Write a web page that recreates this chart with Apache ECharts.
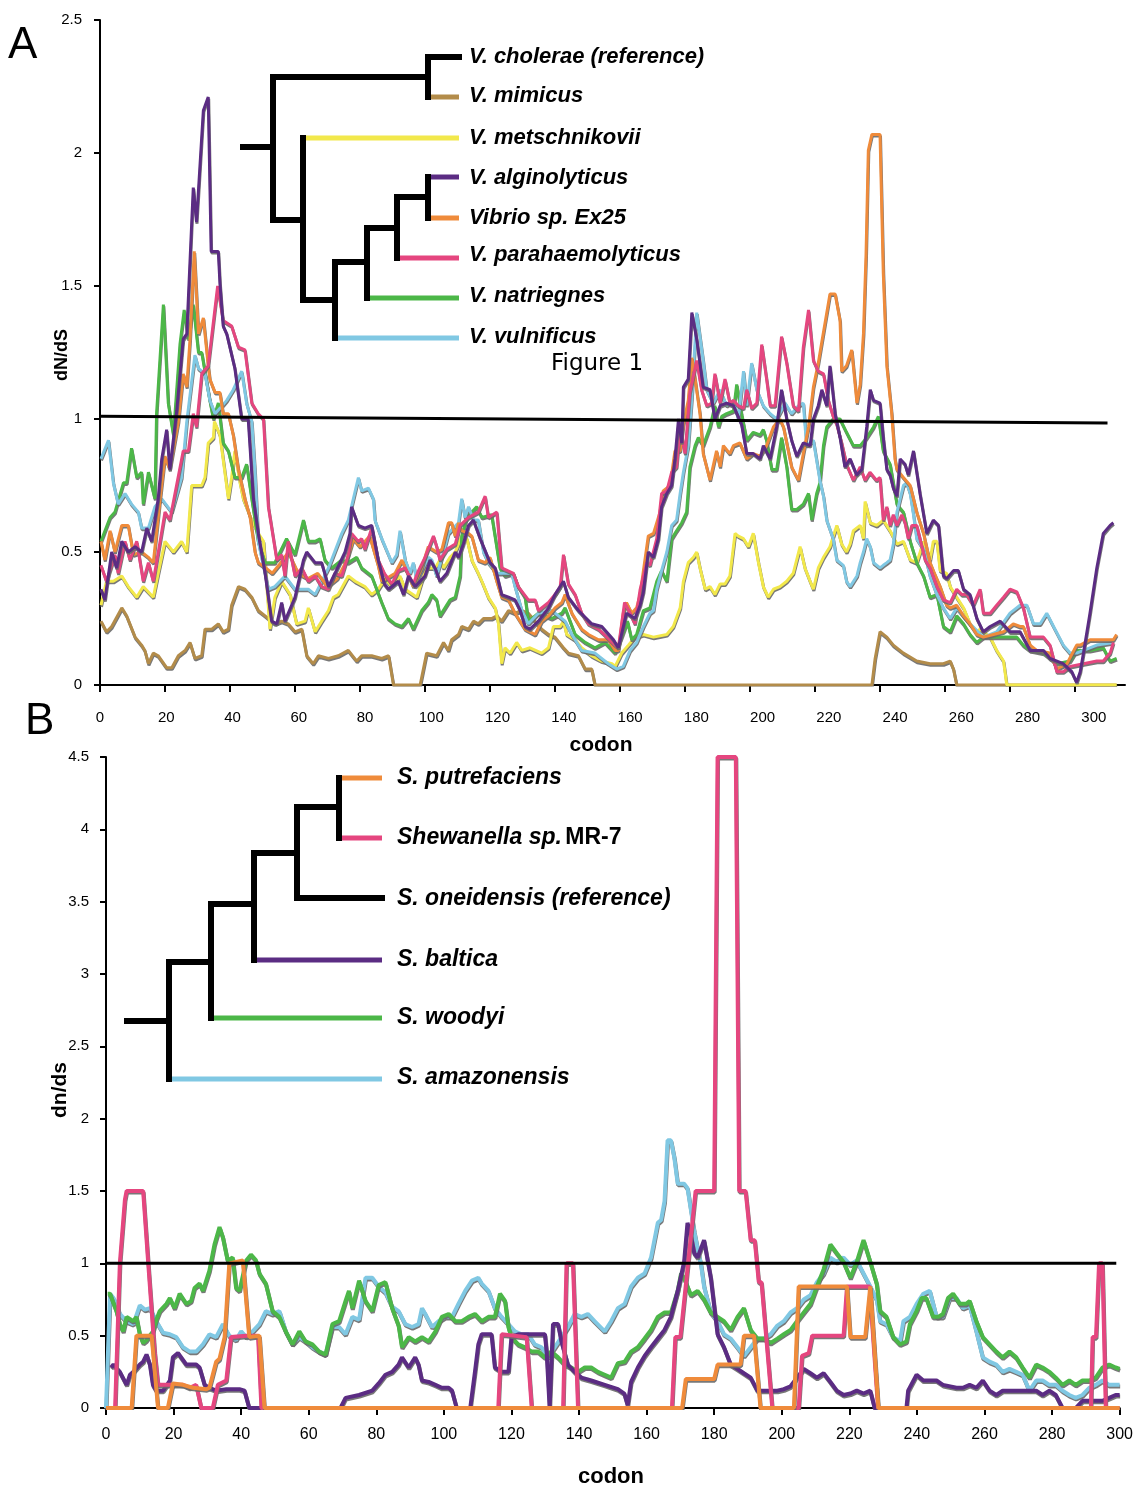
<!DOCTYPE html>
<html><head><meta charset="utf-8">
<script src="https://cdn.jsdelivr.net/npm/echarts@6/dist/echarts.min.js"></script>
<style>html,body{margin:0;padding:0;background:#fff}#c{width:1136px;height:1487px}</style>
</head><body><div id="c"></div>
<script>
// ---------- Panel A (Vibrio) : [codon, dN/dS] ----------
const vAlginolyticus = [[0.3,0.36],[1.5,0.32],[3.6,0.5],[5.1,0.44],[6.7,0.54],[8.7,0.5],[10.8,0.52],[12.8,0.5],[14.4,0.59],[15.9,0.54],[17.9,0.7],[19,0.85],[20.5,0.96],[21.5,0.81],[23.6,1.03],[25.6,1.3],[26.7,1.32],[28.7,1.87],[29.7,1.74],[31.8,2.16],[33.3,2.21],[34.2,1.63],[36.4,1.63],[36.9,1.51],[37.9,1.35],[39,1.32],[41.5,1.19],[43.6,1.0],[45.6,1.0],[47.2,0.7],[48.7,0.57],[50.8,0.42],[52.8,0.24],[54.4,0.23],[55.9,0.31],[56.9,0.24],[60,0.33],[62.6,0.47],[63.6,0.5],[66.2,0.46],[68.2,0.46],[70.3,0.37],[72.3,0.42],[75.4,0.5],[76.9,0.57],[77.4,0.67],[79.5,0.6],[81.5,0.59],[83.6,0.6],[85.6,0.47],[87.5,0.38],[88.8,0.36],[91.8,0.39],[93.4,0.34],[94.9,0.41],[97,0.37],[100,0.41],[101.6,0.47],[103.1,0.44],[104.6,0.39],[106.7,0.42],[109.3,0.5],[110.3,0.48],[111.8,0.53],[113.4,0.6],[114.9,0.62],[117,0.55],[118,0.52],[120,0.46],[121.6,0.44],[123.6,0.34],[125.7,0.33],[127.7,0.32],[129.3,0.28],[130.8,0.22],[132.3,0.21],[134.9,0.24],[138,0.29],[140,0.34],[142.6,0.39],[144.1,0.33],[147.2,0.28],[151.3,0.23],[154.4,0.22],[158,0.17],[159.5,0.14],[162,0.27],[164.6,0.25],[166.2,0.3],[167.2,0.35],[168.7,0.5],[170.3,0.48],[171.8,0.55],[172.8,0.67],[174.4,0.72],[175.9,0.75],[176.9,0.85],[178,1.0],[179,0.91],[179.5,1.12],[181,1.15],[182.1,1.4],[183.6,1.3],[185.6,1.12],[187.7,1.11],[189.2,1.0],[190.8,1.05],[192.8,1.06],[194.9,1.05],[197.4,0.98],[199,0.87],[201,0.87],[203.1,0.85],[204.1,0.9],[206.2,0.85],[208.2,0.97],[209.7,1.11],[211.3,1.0],[212.8,0.92],[214.4,0.86],[216.4,0.91],[218.5,0.9],[219.5,1.0],[221,1.05],[222.1,1.11],[223.6,1.05],[224.6,1.2],[226.2,1.02],[227.7,0.93],[229.2,0.82],[230.8,0.85],[232.8,0.79],[234.4,0.81],[235.9,0.97],[237,1.11],[238,1.07],[240,1.06],[241,0.93],[242.1,0.81],[243.1,0.79],[244.1,0.74],[245.2,0.71],[246.2,0.85],[247.7,0.83],[248.7,0.79],[250.3,0.88],[251.3,0.8],[252.3,0.72],[254.4,0.57],[256.4,0.62],[258,0.6],[259.5,0.41],[260.5,0.4],[262.6,0.43],[264.1,0.43],[265.7,0.36],[267.7,0.34],[269.8,0.25],[271.8,0.2],[273.9,0.22],[277,0.24],[280,0.2],[283.1,0.2],[286.2,0.13],[290.3,0.13],[292.3,0.1],[296.4,0.08],[299,0.05],[300.5,0.01],[301.6,0.05],[302.6,0.12],[304.6,0.27],[306.7,0.44],[308.7,0.57],[310.8,0.6],[311.8,0.61]];
const vEx25 = [[0.3,0.54],[1.5,0.47],[3.1,0.58],[4.6,0.5],[6.7,0.6],[8.7,0.6],[10.3,0.49],[12.8,0.5],[14.9,0.48],[16.4,0.46],[18.5,0.7],[20,0.86],[21.5,0.81],[24.1,0.99],[25.6,1.17],[26.7,1.12],[27.7,1.3],[29,1.63],[30.3,1.32],[31.8,1.38],[33.3,1.2],[33.8,1.15],[35.4,1.1],[36.9,1.1],[37.9,1.02],[39.5,1.02],[41,0.94],[42.6,0.81],[44.6,0.7],[46.2,0.63],[47.7,0.5],[48.7,0.46],[51,0.44],[53,0.42],[55,0.45],[58,0.5],[61,0.42],[64,0.4],[67,0.42],[70,0.37],[73,0.4],[76,0.47],[78,0.55],[80,0.52],[83,0.56],[85.6,0.45],[86.7,0.39],[90.8,0.42],[92.9,0.47],[96.4,0.37],[99,0.44],[101,0.52],[103.6,0.5],[105.2,0.51],[107.2,0.61],[108.2,0.61],[109.3,0.56],[110.3,0.61],[111.3,0.58],[113.4,0.57],[114.4,0.56],[116.4,0.47],[118.5,0.46],[120,0.48],[122.1,0.39],[123.6,0.33],[125.7,0.32],[127.7,0.27],[130.8,0.21],[133.9,0.19],[135.9,0.24],[138,0.26],[140,0.29],[142.1,0.31],[143.1,0.34],[145.2,0.27],[148.2,0.21],[150.3,0.19],[153.4,0.17],[156.4,0.17],[158.5,0.13],[159.5,0.13],[161,0.27],[162,0.31],[163.6,0.27],[165.1,0.29],[166.2,0.34],[167.2,0.43],[168.7,0.56],[170.3,0.57],[172.3,0.65],[173.3,0.73],[175.4,0.75],[176.9,0.88],[178.5,0.88],[179.5,0.98],[181,1.07],[182.1,1.23],[183.1,1.15],[184.6,1.02],[185.6,0.87],[187.7,0.77],[189.7,0.88],[190.8,0.82],[191.8,0.9],[193.8,0.87],[194.9,0.9],[196.9,0.91],[199,0.85],[201,0.87],[203.1,0.86],[205.1,0.9],[207.2,0.97],[209.2,1.0],[210.3,0.97],[212.8,0.82],[214.9,0.77],[216.4,0.87],[218,0.97],[219.5,1.12],[221,1.21],[222.1,1.29],[224.6,1.47],[226.2,1.47],[227.7,1.37],[228.2,1.18],[229.7,1.2],[231.3,1.26],[232.9,1.06],[233.9,1.13],[234.9,1.32],[235.7,1.62],[236.4,2.01],[237.5,2.07],[240,2.07],[241,1.55],[242.1,1.2],[243.6,1.02],[244.6,0.85],[245.2,0.81],[247.2,0.78],[249.3,0.75],[251.3,0.65],[253.4,0.57],[255.4,0.46],[256.4,0.43],[258.5,0.37],[260.5,0.3],[261.6,0.29],[263.6,0.3],[265.7,0.26],[267.7,0.23],[269.8,0.19],[271.8,0.18],[274.9,0.19],[278,0.2],[281,0.23],[283.1,0.22],[284.1,0.22],[286.2,0.15],[288.2,0.13],[292.3,0.12],[294.4,0.06],[297.5,0.08],[300.5,0.15],[301.6,0.15],[304.6,0.17],[311.8,0.17],[312.8,0.19]];
const vParahaemolyticus = [[0.3,0.45],[2,0.39],[4.6,0.49],[5.6,0.42],[7.7,0.54],[9.2,0.47],[11.3,0.54],[13.3,0.39],[14.9,0.46],[16.4,0.39],[18.5,0.54],[20,0.65],[21.5,0.62],[25.6,0.88],[27.2,0.88],[28.7,1.02],[29.7,0.97],[31.3,1.17],[33.3,1.2],[36.2,1.5],[37.9,1.37],[40.5,1.35],[42.6,1.27],[44.6,1.26],[46.7,1.06],[48.7,1.02],[50.3,1.0],[51.8,0.67],[54.4,0.47],[55.9,0.49],[56.9,0.41],[57.9,0.54],[60,0.41],[62.1,0.44],[64.1,0.39],[66.2,0.41],[68.2,0.37],[70.3,0.36],[72.3,0.42],[74.4,0.41],[76.4,0.49],[77.4,0.57],[79.5,0.54],[80.5,0.55],[81.5,0.51],[83.6,0.59],[85.6,0.47],[87.5,0.42],[89.8,0.38],[91.8,0.43],[93.9,0.44],[96.4,0.38],[98,0.43],[100,0.48],[102.6,0.56],[103.6,0.52],[104.6,0.47],[106.7,0.51],[109.3,0.53],[110.8,0.6],[113.4,0.63],[116.4,0.65],[118.5,0.71],[119.5,0.63],[122.1,0.65],[123.6,0.44],[127.2,0.42],[128.7,0.37],[131.8,0.32],[133.9,0.32],[134.9,0.28],[138,0.31],[140,0.34],[141.6,0.37],[142.6,0.49],[144.1,0.38],[146.2,0.34],[148.2,0.27],[150.3,0.23],[153.4,0.21],[156,0.18],[158.5,0.15],[159.5,0.14],[161.4,0.31],[163.1,0.27],[164.6,0.23],[166.2,0.36],[168.2,0.46],[169.2,0.45],[171.3,0.55],[172.8,0.72],[174.4,0.73],[175.9,0.8],[177.4,0.82],[178.5,0.97],[180,0.87],[181.5,1.1],[183.6,1.22],[185.1,1.11],[186.7,1.05],[188.2,1.06],[189.2,1.17],[190.8,1.06],[192.3,1.15],[193.8,1.06],[194.9,1.07],[196.4,1.05],[198,1.04],[199,1.11],[200.5,1.04],[202.1,1.06],[203.6,1.28],[205.1,1.15],[206.2,1.05],[207.7,1.05],[209.7,1.31],[211.3,1.21],[213.3,1.05],[214.9,1.03],[216.4,1.27],[218,1.41],[219.5,1.22],[221,1.18],[222.6,1.17],[224.1,1.07],[225.6,1.01],[226.7,0.98],[228.2,0.91],[229.7,0.83],[231.8,0.77],[233.9,0.82],[235.4,0.77],[236.9,0.8],[238.9,0.77],[240,0.78],[241,0.62],[242.1,0.67],[243.1,0.6],[244.1,0.64],[245.2,0.6],[246.7,0.64],[247.7,0.61],[248.7,0.55],[249.8,0.6],[251.3,0.6],[252.3,0.55],[253.9,0.47],[255.4,0.44],[257.5,0.37],[259.5,0.32],[261.6,0.31],[263.6,0.36],[265.2,0.34],[266.7,0.34],[268.7,0.3],[270.8,0.36],[271.8,0.27],[273.9,0.27],[275.9,0.3],[278,0.33],[280,0.36],[282.1,0.35],[284.1,0.29],[286.2,0.18],[290.3,0.18],[292.3,0.15],[294.4,0.05],[296.4,0.05],[298.5,0.07],[302.6,0.08],[306.7,0.09],[308.7,0.09],[310.8,0.12],[311.8,0.16]];
const vNatriegnes = [[0.3,0.54],[3.1,0.63],[4.6,0.65],[7.2,0.76],[8.2,0.76],[9.7,0.89],[11.3,0.78],[12.8,0.8],[13.3,0.68],[14.9,0.8],[16.9,0.7],[17.4,1.02],[19.5,1.43],[21,1.06],[22.6,0.94],[24.6,1.28],[25.9,1.41],[27.2,1.3],[28.7,1.43],[30.3,1.25],[31.3,1.25],[33.8,1.07],[34.9,1.0],[36.4,1.06],[37.9,0.91],[39.5,0.88],[41.5,0.78],[43.6,0.78],[45.1,0.83],[46.7,0.7],[48.7,0.54],[50.8,0.46],[53.8,0.46],[57.4,0.55],[60,0.49],[62.6,0.62],[64.1,0.54],[66.2,0.54],[67.7,0.55],[69.2,0.47],[71.3,0.44],[74.4,0.47],[76.4,0.46],[79,0.48],[80.5,0.44],[83.6,0.41],[86.7,0.31],[88.7,0.25],[90.8,0.23],[92.9,0.22],[94.9,0.25],[96.4,0.21],[99,0.28],[101,0.31],[102.1,0.34],[103.6,0.32],[104.6,0.26],[107.7,0.32],[109.3,0.33],[110.8,0.41],[111.3,0.56],[112.9,0.63],[114.4,0.65],[115.9,0.67],[117.5,0.63],[120.5,0.64],[123.1,0.44],[124.6,0.41],[127.2,0.42],[128.7,0.37],[130.8,0.33],[131.8,0.24],[134.9,0.27],[139,0.25],[142.1,0.27],[143.1,0.29],[146.2,0.19],[149.3,0.16],[152.3,0.14],[155.4,0.16],[158.5,0.12],[160.5,0.18],[162.3,0.24],[163.6,0.17],[165.1,0.19],[167.2,0.28],[169.2,0.29],[171.3,0.39],[172.8,0.43],[174.4,0.39],[175.9,0.55],[177.4,0.58],[179,0.61],[180.5,0.65],[181.5,0.82],[183.1,0.9],[184.1,0.93],[185.6,0.9],[187.7,0.97],[189.2,1.05],[190.3,0.97],[191.3,1.01],[192.8,1.02],[194.9,1.03],[195.9,1.13],[197.4,1.02],[199,0.92],[201,0.95],[203.1,0.94],[204.1,0.96],[205.1,0.92],[206.7,0.81],[208.2,0.81],[209.7,0.93],[211.3,0.82],[212.8,0.66],[214.4,0.66],[216.4,0.68],[218,0.72],[219,0.62],[220.5,0.72],[221.5,0.76],[222.6,0.9],[223.6,0.97],[225.6,1.0],[227.7,1.0],[229.7,0.95],[231.8,0.9],[233.9,0.9],[235.9,0.93],[238,0.97],[239.5,1.01],[241,0.88],[243.1,0.83],[245.2,0.68],[247.2,0.65],[249.3,0.54],[251.3,0.46],[253.4,0.41],[255.4,0.33],[257.5,0.34],[259.5,0.22],[261.6,0.2],[263.6,0.26],[265.7,0.23],[267.7,0.19],[269.8,0.16],[271.8,0.18],[275.9,0.18],[282.1,0.18],[284.1,0.15],[286.2,0.13],[290.3,0.12],[294.4,0.08],[298.5,0.09],[300.5,0.13],[304.6,0.13],[308.7,0.14],[310.8,0.09],[312.8,0.1]];
const vVulnificus = [[0.3,0.85],[2.6,0.92],[4.1,0.76],[5.6,0.68],[7.7,0.72],[9.7,0.68],[11.8,0.65],[12.8,0.59],[14.9,0.59],[16.9,0.67],[19,0.7],[22.1,0.65],[25.1,0.78],[26.7,0.99],[29.2,1.24],[30.3,1.19],[32.3,1.17],[33.8,1.07],[35.4,1.02],[36.9,1.04],[39,1.07],[41,1.11],[43.6,1.18],[45.1,1.06],[46.7,0.99],[47.7,0.8],[48.7,0.54],[51.8,0.36],[53.8,0.37],[56.9,0.41],[60,0.36],[64.1,0.36],[66.2,0.34],[70.3,0.44],[74.4,0.57],[76.4,0.62],[79.5,0.78],[80.5,0.73],[82.6,0.74],[84.1,0.7],[84.6,0.62],[86.7,0.55],[89.8,0.46],[91.3,0.49],[92.3,0.58],[93.9,0.47],[95.4,0.42],[96.4,0.46],[97.5,0.39],[99,0.43],[101,0.48],[102.1,0.47],[103.6,0.41],[105.7,0.5],[107.2,0.57],[110.3,0.61],[111.3,0.7],[112.3,0.63],[113.4,0.67],[114.9,0.62],[116.4,0.62],[118,0.5],[119.5,0.46],[122.1,0.42],[126.7,0.42],[127.7,0.37],[129.8,0.28],[131.8,0.23],[134.9,0.27],[139,0.28],[143.1,0.24],[145.2,0.19],[148.2,0.13],[152.3,0.12],[156.4,0.08],[159,0.06],[161,0.07],[163.1,0.13],[165.1,0.16],[167.2,0.22],[169.2,0.27],[170.3,0.28],[171.3,0.36],[172.8,0.43],[174.4,0.5],[175.9,0.6],[177.4,0.62],[178.5,0.72],[179.5,0.8],[181,0.9],[182.1,1.08],[183.6,1.4],[184.1,1.4],[185.6,1.22],[186.7,1.11],[188.7,1.06],[190.8,1.11],[192.8,1.05],[194.9,1.07],[196.4,1.0],[198,1.18],[199,1.05],[200.5,1.21],[202.1,1.11],[204.1,1.05],[206.2,1.02],[208.2,1.0],[210.8,1.06],[212.8,1.02],[214.9,1.05],[216.4,1.06],[217.4,0.9],[219.5,0.92],[221.5,0.77],[222.6,0.71],[223.6,0.62],[225.6,0.55],[226.7,0.47],[228.7,0.45],[229.7,0.39],[230.8,0.37],[232.9,0.41],[233.9,0.46],[234.9,0.5],[235.9,0.55],[237,0.52],[238,0.46],[240,0.44],[241,0.45],[242.1,0.46],[243.1,0.47],[244.1,0.53],[245.2,0.65],[247.2,0.75],[248.2,0.76],[249.3,0.72],[250.3,0.64],[251.3,0.55],[253.4,0.51],[255.4,0.41],[257.5,0.34],[259.5,0.29],[261.6,0.25],[263.6,0.29],[267.7,0.23],[271.8,0.18],[275.9,0.2],[280,0.27],[283.1,0.3],[285.2,0.3],[287.2,0.23],[289.3,0.23],[291.3,0.27],[293.4,0.22],[296.4,0.15],[298.5,0.12],[300.5,0.12],[302.6,0.13],[306.7,0.15],[311.8,0.16]];
const vMetschnikovii = [[0.3,0.3],[2,0.39],[4.1,0.39],[6.7,0.41],[8.7,0.37],[11.3,0.33],[13.3,0.37],[16.4,0.33],[17.9,0.42],[20,0.54],[22.6,0.5],[25.1,0.54],[26.7,0.5],[28.2,0.75],[31.3,0.75],[32.3,0.78],[33.3,0.91],[34.9,0.93],[35.2,0.99],[36.9,0.94],[39.5,0.7],[40.5,0.78],[41.5,0.88],[43.1,0.76],[44.1,0.7],[46.7,0.62],[48.7,0.57],[50.3,0.54],[52.3,0.21],[53.8,0.33],[55.9,0.39],[58.5,0.34],[60.5,0.23],[63.1,0.24],[64.1,0.29],[66.2,0.2],[68.2,0.24],[70.3,0.28],[71.8,0.33],[73.3,0.34],[76.4,0.41],[78.5,0.39],[81.5,0.37],[83.6,0.34],[85.6,0.36],[87.7,0.4],[89.8,0.37],[92.3,0.41],[93.9,0.36],[97.5,0.33],[99,0.39],[100.5,0.44],[103.1,0.44],[104.6,0.47],[105.7,0.44],[107.7,0.48],[109.3,0.5],[111.3,0.56],[112.9,0.55],[114.4,0.47],[116.4,0.42],[117.5,0.39],[119.5,0.33],[121.6,0.29],[122.6,0.23],[123.6,0.08],[124.6,0.14],[126.2,0.12],[128.2,0.16],[129.8,0.13],[132.3,0.14],[135.9,0.12],[138,0.14],[139.5,0.22],[141.6,0.22],[142.6,0.24],[143.6,0.19],[146.2,0.17],[148.2,0.14],[151.3,0.11],[154.4,0.09],[157.5,0.08],[158.5,0.07],[160.5,0.12],[162.6,0.15],[164.6,0.18],[167.2,0.19],[170.3,0.18],[174.4,0.19],[176.4,0.22],[178.5,0.29],[179.5,0.39],[181,0.46],[182.6,0.48],[183.6,0.5],[184.6,0.44],[186.2,0.36],[187.7,0.37],[189.2,0.34],[190.8,0.38],[192.3,0.38],[193.8,0.41],[195.4,0.57],[196.4,0.56],[198,0.55],[199.5,0.52],[201,0.57],[202.6,0.46],[204.1,0.37],[205.6,0.33],[207.2,0.36],[209.2,0.37],[211.3,0.39],[213.3,0.42],[215.4,0.52],[216.9,0.44],[218.5,0.39],[219.5,0.36],[221,0.44],[222.6,0.48],[224.6,0.52],[226.7,0.6],[228.2,0.53],[229.7,0.5],[230.8,0.53],[231.8,0.58],[233.9,0.6],[234.9,0.55],[235.4,0.69],[237,0.61],[239,0.6],[241,0.62],[243.1,0.58],[245.2,0.53],[247.2,0.54],[249.3,0.47],[251.3,0.46],[253.4,0.54],[255.4,0.47],[256.4,0.54],[257.5,0.54],[258.5,0.43],[260.5,0.42],[261.6,0.37],[263.6,0.33],[265.7,0.29],[267.7,0.23],[269.8,0.2],[270.8,0.21],[273.9,0.18],[275.9,0.13],[278,0.09],[279,0],[312.8,0]];
const vMimicus = [[0.3,0.24],[2,0.2],[3.6,0.22],[6.7,0.29],[8.2,0.26],[10.8,0.18],[12.8,0.15],[13.8,0.13],[14.9,0.08],[16.4,0.12],[17.9,0.11],[20.5,0.065],[22.1,0.065],[24.1,0.11],[26.2,0.13],[27.7,0.16],[29.2,0.1],[31.3,0.11],[32.3,0.21],[34.4,0.21],[36.4,0.23],[37.9,0.2],[39.5,0.21],[40.5,0.3],[42.6,0.37],[44.6,0.36],[46.7,0.33],[48.7,0.28],[50.8,0.26],[53.8,0.23],[55.9,0.24],[57.9,0.23],[60,0.2],[62.1,0.21],[63.6,0.11],[65.6,0.08],[67.2,0.11],[70.3,0.1],[73.3,0.11],[76.4,0.13],[79,0.09],[80.5,0.11],[83.6,0.11],[86.7,0.1],[88.8,0.11],[90.3,0],[98.5,0],[100.5,0.12],[103.6,0.11],[105.7,0.16],[107.2,0.13],[108.2,0.17],[110.3,0.19],[111.3,0.22],[113.4,0.21],[114.9,0.24],[116.4,0.23],[118,0.25],[120.5,0.25],[122.1,0.26],[123.6,0.24],[125.7,0.28],[127.7,0.27],[129.8,0.28],[131.8,0.27],[135.9,0.21],[138,0.19],[140,0.18],[142.6,0.14],[144.1,0.12],[147.2,0.11],[149.3,0.06],[151.3,0.06],[152.3,0],[237.5,0],[238.5,0.1],[240,0.2],[242.1,0.18],[244.1,0.15],[247.2,0.12],[251.3,0.09],[255.4,0.08],[259.5,0.08],[261.6,0.09],[262.6,0.06],[263.6,0],[312.8,0]];
const refLineA = [[0,1.01],[310,0.985]];

// ---------- Panel B (Shewanella) : [codon, dn/ds] ----------
const sAmazonensis = [[0,0],[1.2,0.79],[2.2,0.76],[3.1,0.72],[4.1,0.65],[6.1,0.6],[8.1,0.58],[10,0.71],[11.5,0.68],[13,0.69],[14.9,0.6],[16.9,0.52],[18.9,0.51],[20.8,0.49],[22.8,0.42],[24.8,0.39],[26.7,0.39],[28.7,0.44],[30.6,0.51],[32.6,0.49],[34.6,0.58],[36.5,0.5],[38.5,0.47],[40,0.53],[41.5,0.49],[43.4,0.53],[45.4,0.58],[47.3,0.67],[49.3,0.65],[51.3,0.67],[53.2,0.53],[55.2,0.44],[57.2,0.49],[59.1,0.46],[61.1,0.42],[63.1,0.39],[65,0.37],[67,0.56],[69,0.56],[70.9,0.51],[72.9,0.63],[74.9,0.61],[76.8,0.9],[78.8,0.9],[80.7,0.84],[82.7,0.8],[84.7,0.7],[86.6,0.67],[88.6,0.58],[90.6,0.56],[92.5,0.58],[93.5,0.69],[94.5,0.65],[96.5,0.56],[98.4,0.6],[100.4,0.63],[102.4,0.63],[104.3,0.72],[106.3,0.81],[108.3,0.88],[110.2,0.9],[111.2,0.86],[113.2,0.81],[115.1,0.69],[117.1,0.63],[119.1,0.58],[121,0.53],[123,0.51],[125,0.51],[126.9,0.44],[128.9,0.42],[130.8,0.35],[132.8,0.42],[134.8,0.49],[136.7,0.56],[138.7,0.65],[140.7,0.63],[142.6,0.65],[144.6,0.6],[147.6,0.53],[149.5,0.6],[151.5,0.69],[153.5,0.72],[155.4,0.84],[157.4,0.9],[159.4,0.93],[161.3,1.04],[163.3,1.28],[164.3,1.3],[165.3,1.43],[166.2,1.85],[167.2,1.85],[168.2,1.73],[169.2,1.55],[171.1,1.55],[172.1,1.52],[173.1,1.37],[174.1,1.22],[175.1,1.1],[176.1,0.99],[177,0.84],[179,0.66],[181,0.6],[182.9,0.51],[184.9,0.48],[186.9,0.42],[188.8,0.36],[190.8,0.42],[192.8,0.48],[194.7,0.48],[196.7,0.51],[198.7,0.57],[200.6,0.6],[202.6,0.66],[204.5,0.69],[206.5,0.75],[208.5,0.78],[210.4,0.87],[212.4,0.93],[214.4,1.04],[216.3,1.01],[218.3,1.04],[220.3,0.99],[222.2,1.02],[224.2,0.93],[226.2,0.84],[228.1,0.75],[229.1,0.6],[231,0.58],[233,0.49],[235,0.46],[236,0.6],[237.9,0.63],[239.9,0.72],[241.9,0.79],[243.8,0.81],[245.8,0.63],[247.7,0.63],[249.7,0.76],[251.7,0.76],[253.6,0.69],[255.6,0.71],[257.6,0.53],[259.5,0.35],[261.5,0.32],[263.5,0.3],[265.4,0.25],[267.4,0.27],[269.4,0.25],[271.3,0.23],[273.3,0.12],[275.3,0.19],[277.2,0.19],[279.2,0.16],[281.1,0.16],[283.1,0.12],[285.1,0.09],[287,0.07],[289,0.09],[291,0.14],[292.9,0.16],[294.9,0.19],[296.9,0.16],[298.8,0.16],[300,0.16]];
const sWoodyi = [[0.5,0.79],[1.2,0.79],[3.1,0.67],[4.1,0.58],[5.1,0.53],[6.1,0.63],[8.1,0.6],[9,0.63],[10,0.51],[11,0.45],[12,0.47],[13.9,0.53],[14.9,0.61],[15.9,0.67],[17.9,0.72],[18.9,0.76],[20.3,0.69],[21.8,0.79],[23.8,0.72],[25.2,0.74],[26.2,0.83],[27.7,0.86],[28.7,0.81],[30.6,0.95],[32.1,1.13],[33.6,1.25],[34.6,1.18],[36,1.02],[37.5,1.04],[38.5,0.83],[39.5,0.81],[41.5,1.02],[42.9,1.06],[44.4,1.02],[45.4,0.93],[47.3,0.86],[49.3,0.67],[51.3,0.63],[53.2,0.53],[55.2,0.44],[57.2,0.53],[59.1,0.46],[61.1,0.44],[63.1,0.39],[65,0.37],[67,0.58],[69,0.6],[70.9,0.74],[71.9,0.81],[72.9,0.69],[74.9,0.88],[76.8,0.74],[78.8,0.67],[80.7,0.85],[82.7,0.87],[84.7,0.69],[86.6,0.57],[87.6,0.42],[89.6,0.49],[91.5,0.46],[93.5,0.49],[95.5,0.46],[97.5,0.53],[99.4,0.63],[101.4,0.65],[103.4,0.6],[105.3,0.6],[107.3,0.63],[109.2,0.65],[111.2,0.6],[113.2,0.63],[115.1,0.63],[116.6,0.79],[118.1,0.74],[119.1,0.56],[120,0.49],[122,0.44],[124,0.42],[126,0.39],[127.9,0.39],[129.9,0.35],[131.8,0.39],[133.8,0.35],[135.8,0.3],[137.7,0.28],[139.7,0.25],[141.7,0.28],[143.6,0.28],[145.6,0.25],[147.6,0.23],[149.5,0.21],[151.5,0.31],[153.5,0.32],[155.4,0.39],[157.4,0.42],[159.4,0.48],[161.3,0.54],[163.3,0.63],[165.3,0.66],[167.2,0.66],[169.2,0.81],[170.2,0.93],[171.1,0.9],[172.1,0.84],[173.1,0.78],[175.1,0.81],[177,0.75],[179,0.66],[181,0.63],[182.9,0.6],[184.9,0.54],[186.9,0.63],[188.8,0.69],[190.8,0.54],[192.8,0.48],[194.7,0.48],[196.7,0.45],[198.7,0.48],[200.6,0.51],[202.6,0.54],[204.5,0.6],[206.5,0.66],[208.5,0.72],[210.4,0.84],[212.4,0.96],[214.4,1.13],[216.3,1.07],[218.3,1.01],[220.3,0.9],[222.2,1.01],[224.2,1.16],[226.2,1.01],[228.1,0.86],[229.1,0.67],[231,0.63],[233,0.49],[235,0.44],[236.9,0.46],[237.9,0.58],[239.9,0.67],[241.4,0.76],[242.8,0.76],[244.8,0.63],[246.3,0.63],[247.7,0.65],[249.2,0.76],[250.7,0.79],[252.7,0.72],[254.6,0.72],[255.6,0.74],[257.6,0.6],[259.5,0.49],[261.5,0.44],[263.5,0.39],[265.4,0.35],[267.4,0.39],[269.4,0.35],[271.3,0.28],[273.3,0.21],[275.3,0.3],[277.2,0.28],[279.2,0.25],[281.1,0.21],[283.1,0.16],[285.1,0.19],[287,0.16],[289,0.19],[291,0.19],[292.9,0.21],[294.9,0.28],[296.9,0.3],[298.8,0.28],[300,0.27]];
const sBaltica = [[1.5,0.28],[2.2,0.3],[4.1,0.25],[6.1,0.16],[7.1,0.23],[8.1,0.25],[10,0.3],[11,0.32],[12,0.37],[13,0.3],[13.9,0.16],[14.9,0.12],[16.9,0.12],[18.9,0.19],[19.8,0.35],[21.3,0.38],[23.8,0.3],[26.7,0.3],[27.7,0.28],[29.2,0.16],[30.6,0.14],[32.6,0.12],[35.6,0.13],[39.5,0.13],[41,0.12],[42.4,0],[69.4,0],[70.9,0.07],[74.9,0.09],[78.8,0.12],[80.7,0.17],[82.7,0.23],[84.7,0.25],[86.6,0.3],[87.6,0.35],[89.6,0.28],[91.5,0.35],[92.5,0.3],[93.5,0.19],[95.5,0.18],[97.5,0.16],[99.4,0.14],[101.4,0.14],[102.4,0.12],[103.8,0],[107.8,0],[109.2,0.25],[110.2,0.44],[111.2,0.51],[114.1,0.51],[115.1,0.28],[117.1,0.25],[119.1,0.25],[120,0.49],[122,0.51],[129.9,0.51],[130.4,0.39],[131.3,0],[132.3,0.58],[133.8,0.58],[134.8,0.46],[136.7,0.3],[138.7,0.25],[140.7,0.21],[143.6,0.19],[147.6,0.16],[151.5,0.13],[153.4,0.1],[154.4,0.02],[155.4,0.18],[157.4,0.28],[159.4,0.36],[161.3,0.42],[163.3,0.48],[165.3,0.54],[167.2,0.63],[169.2,0.81],[171.1,1.01],[172.1,1.28],[173.1,1.19],[174.1,1.07],[175.1,1.04],[177,1.16],[179,0.9],[181,0.51],[182.9,0.42],[184.9,0.3],[186.9,0.27],[188.8,0.24],[190.8,0.21],[192.8,0.12],[198.7,0.12],[200.6,0.13],[202.6,0.15],[204.5,0.21],[206.5,0.27],[208.5,0.24],[210.4,0.21],[212.4,0.24],[214.4,0.18],[216.3,0.12],[218.3,0.09],[220.3,0.1],[222.2,0.12],[224.2,0.1],[226.2,0.12],[227.5,0],[236.9,0],[237.4,0.12],[239.9,0.23],[241.9,0.19],[245.8,0.19],[247.7,0.16],[251.7,0.14],[253.6,0.14],[255.6,0.16],[257.6,0.14],[259.5,0.19],[261.5,0.12],[263.5,0.09],[265.4,0.12],[275.3,0.12],[277.2,0.09],[279.2,0.12],[281.1,0.09],[283.1,0],[287,0],[289,0.05],[294.9,0.05],[296.9,0.07],[298.8,0.09],[300,0.09]];
const sMR7 = [[0,0],[2.7,0],[4.1,1.0],[5.6,1.44],[6.1,1.5],[11,1.5],[12.5,1.0],[14.4,0.39],[15.4,0.16],[18.9,0.16],[22.8,0.16],[24.8,0.14],[26.7,0.16],[28.2,0],[31.6,0],[33.1,0.16],[35.6,0.19],[37,0.49],[41.5,0.5],[45,0.5],[46,0],[116.1,0],[117.1,0.51],[124.5,0.49],[126,0],[135.3,0],[136.3,1.0],[138.2,1.0],[139.7,0],[167.5,0],[168.5,0.49],[170,0.49],[174.5,1.5],[180,1.5],[181,4.5],[186.4,4.5],[187.4,1.5],[189.3,1.5],[190.8,1.16],[192,1.16],[193.2,0.87],[194,0.87],[197.2,0],[205,0],[206,0.36],[208,0.38],[209,0.5],[218.3,0.5],[219.3,0.84],[226,0.84],[228.5,0],[291.5,0],[292,0.49],[293,0.49],[293.9,1.0],[294.9,1.0],[295.9,0],[300,0]];
const sPutrefaciens = [[0,0],[7.6,0],[9,0.5],[13.5,0.5],[15.4,0],[18.3,0],[19.8,0.17],[22.8,0.16],[25.7,0.14],[29.7,0.13],[30.6,0.14],[32.6,0.32],[33.6,0.34],[35.1,0.49],[36.5,1.0],[40.5,1.02],[42.4,0.49],[45.4,0.5],[46.9,0],[170.5,0],[171.6,0.2],[180,0.2],[181,0.3],[187.8,0.3],[188.8,0.5],[191.8,0.5],[193.7,0],[203.6,0],[205,0.84],[219.3,0.84],[220.3,0.49],[224.7,0.49],[226.2,0.84],[228.6,0],[300,0]];
const refLineB = [[0,1],[299,1]];

// axis tick / label values
const xTicksA = [0,20,40,60,80,100,120,140,160,180,200,220,240,260,280,300];
const xTicksB = [0,20,40,60,80,100,120,140,160,180,200,220,240,260,280,300];

const C = {purple:'#5b2c83', orange:'#ef8b3b', pink:'#e5467f', green:'#4cb748', blue:'#80c8e3', yellow:'#f2e84b', brown:'#b38c4a', black:'#000'};
const FONT = "'Liberation Sans', Arial, Helvetica, sans-serif";

function ln(name, data, color, xi, yi, w, z) {
  return {type:'line', name, data, xAxisIndex:xi, yAxisIndex:yi, showSymbol:false, symbol:'none',
    animation:false, silent:true, z,
    lineStyle:{color, width:w, shadowColor:'rgba(105,105,105,0.9)', shadowBlur:0, shadowOffsetX:0.5, shadowOffsetY:1.6}};
}
function refLn(data, xi, yi) {
  return {type:'line', data, xAxisIndex:xi, yAxisIndex:yi, showSymbol:false, symbol:'none', animation:false, silent:true, z:20,
    lineStyle:{color:'#000', width:3}};
}

// tree drawing helpers (decoration / legend)
function seg(x1,y1,x2,y2,color,w,cap){return {type:'line',shape:{x1,y1,x2,y2},style:{stroke:color,lineWidth:w,lineCap:cap||'square'},z:100};}
function lab(x,y,text,size){return {type:'text',x,y,style:{text,font:`italic bold ${size}px ${FONT}`,fill:'#000',textVerticalAlign:'middle'},z:100};}

const g = [];
// Tree A
[[243,147,273,147],[273,77,273,220],[273,77,428,77],[428,57,428,97],[428,57,459,57],[273,220,303,220],[303,138,303,300],[303,300,335,300],[335,262,335,338],[335,262,367,262],[367,228,367,298],[367,228,397,228],[397,197,397,258],[397,197,428,197],[428,177,428,218]]
  .forEach(s=>g.push(seg(s[0],s[1],s[2],s[3],'#000',6)));
g.push(seg(431,97,459,97,C.brown,5,'butt'));
g.push(seg(306,138,459,138,C.yellow,5,'butt'));
g.push(seg(431,177,459,177,C.purple,5,'butt'));
g.push(seg(431,218,459,218,C.orange,5,'butt'));
g.push(seg(400,258,459,258,C.pink,5,'butt'));
g.push(seg(370,298,459,298,C.green,5,'butt'));
g.push(seg(338,338,459,338,C.blue,5,'butt'));
[['V. cholerae (reference)',57],['V. mimicus',96],['V. metschnikovii',138],['V. alginolyticus',178],['Vibrio sp. Ex25',218],['V. parahaemolyticus',255],['V. natriegnes',296],['V. vulnificus',337]]
  .forEach(t=>g.push(lab(469,t[1],t[0],22)));
g.push({type:'text',x:551,y:364,style:{text:'Figure 1',font:`23px 'DejaVu Sans', sans-serif`,fill:'#000',textVerticalAlign:'middle'},z:100});

// Tree B
[[127,1021,169,1021],[169,962,169,1079],[169,962,211,962],[211,904,211,1018],[211,904,254,904],[254,853,254,960],[254,853,297,853],[297,807,297,898],[297,898,382,898],[297,807,339,807],[339,778,339,838]]
  .forEach(s=>g.push(seg(s[0],s[1],s[2],s[3],'#000',6)));
g.push(seg(342,778,382,778,C.orange,5,'butt'));
g.push(seg(342,838,382,838,C.pink,5,'butt'));
g.push(seg(257,960,382,960,C.purple,5,'butt'));
g.push(seg(214,1018,382,1018,C.green,5,'butt'));
g.push(seg(172,1079,382,1079,C.blue,5,'butt'));
[['S. putrefaciens',778],['S. oneidensis (reference)',899],['S. baltica',960],['S. woodyi',1018],['S. amazonensis',1078]]
  .forEach(t=>g.push(lab(397,t[1],t[0],23)));
g.push({type:'text',x:397,y:838,style:{text:'{i|Shewanella sp.} {n|MR-7}',rich:{i:{font:`italic bold 23px ${FONT}`,fill:'#000'},n:{font:`bold 23px ${FONT}`,fill:'#000'}},textVerticalAlign:'middle'},z:100});

// Panel letters & axis titles
g.push({type:'text',x:8,y:46,style:{text:'A',font:`44px ${FONT}`,fill:'#000',textVerticalAlign:'middle'},z:100});
g.push({type:'text',x:25,y:722,style:{text:'B',font:`44px ${FONT}`,fill:'#000',textVerticalAlign:'middle'},z:100});
g.push({type:'text',x:62,y:355,rotation:Math.PI/2,style:{text:'dN/dS',font:`bold 18px ${FONT}`,fill:'#000',textAlign:'center',textVerticalAlign:'middle'},z:100});
g.push({type:'text',x:60,y:1090,rotation:Math.PI/2,style:{text:'dn/ds',font:`bold 21px ${FONT}`,fill:'#000',textAlign:'center',textVerticalAlign:'middle'},z:100});
g.push({type:'text',x:601,y:745,style:{text:'codon',font:`bold 21px ${FONT}`,fill:'#000',textAlign:'center',textVerticalAlign:'middle'},z:100});
g.push({type:'text',x:611,y:1477,style:{text:'codon',font:`bold 22px ${FONT}`,fill:'#000',textAlign:'center',textVerticalAlign:'middle'},z:100});

const axLine = {show:true, lineStyle:{color:'#000', width:2}};
const option = {
  backgroundColor:'#fff',
  animation:false,
  grid:[{left:100, top:20, width:1025, height:665}, {left:106, top:757, width:1018, height:651}],
  xAxis:[
    {gridIndex:0, type:'value', min:0, max:315.38, axisLine:axLine,
     axisTick:{show:true, inside:false, length:7, customValues:xTicksA, lineStyle:{color:'#000',width:2}},
     axisLabel:{show:false}, splitLine:{show:false}},
    {gridIndex:0, type:'value', min:0, max:309.4, position:'bottom', axisLine:{show:false}, axisTick:{show:false},
     axisLabel:{show:true, customValues:xTicksA, fontSize:15, fontFamily:FONT, color:'#000', margin:25}, splitLine:{show:false}},
    {gridIndex:1, type:'value', min:0, max:300, axisLine:axLine,
     axisTick:{show:true, inside:false, length:7, customValues:xTicksB, lineStyle:{color:'#000',width:2}},
     axisLabel:{show:true, customValues:xTicksB, fontSize:16, fontFamily:FONT, color:'#000', margin:19}, splitLine:{show:false}}
  ],
  yAxis:[
    {gridIndex:0, type:'value', min:0, max:2.5, interval:0.5, axisLine:axLine,
     axisTick:{show:true, inside:false, length:6, lineStyle:{color:'#000',width:2}},
     axisLabel:{fontSize:15, fontFamily:FONT, color:'#000', margin:18}, splitLine:{show:false}},
    {gridIndex:1, type:'value', min:0, max:4.5, interval:0.5, axisLine:axLine,
     axisTick:{show:true, inside:false, length:6, lineStyle:{color:'#000',width:2}},
     axisLabel:{fontSize:15, fontFamily:FONT, color:'#000', margin:17}, splitLine:{show:false}}
  ],
  series:[
    ln('V. mimicus', vMimicus, C.brown, 0,0,3,2),
    ln('V. metschnikovii', vMetschnikovii, C.yellow, 0,0,3,3),
    ln('V. natriegnes', vNatriegnes, C.green, 0,0,3,4),
    ln('V. vulnificus', vVulnificus, C.blue, 0,0,3,5),
    ln('Vibrio sp. Ex25', vEx25, C.orange, 0,0,3,6),
    ln('V. parahaemolyticus', vParahaemolyticus, C.pink, 0,0,3,7),
    ln('V. alginolyticus', vAlginolyticus, C.purple, 0,0,3,8),
    refLn(refLineA,0,0),
    ln('S. amazonensis', sAmazonensis, C.blue, 2,1,4,2),
    ln('S. woodyi', sWoodyi, C.green, 2,1,4,3),
    ln('S. baltica', sBaltica, C.purple, 2,1,4,4),
    ln('Shewanella sp. MR-7', sMR7, C.pink, 2,1,4,5),
    ln('S. putrefaciens', sPutrefaciens, C.orange, 2,1,4,6),
    refLn(refLineB,2,1)
  ],
  graphic:g
};
const chart = echarts.init(document.getElementById('c'));
chart.setOption(option);
</script></body></html>
